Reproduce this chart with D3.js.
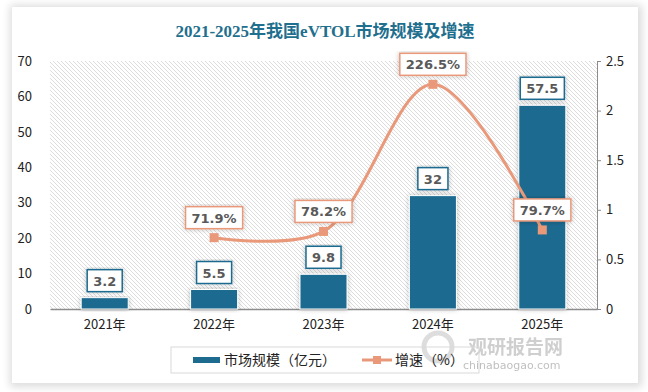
<!DOCTYPE html>
<html>
<head>
<meta charset="utf-8">
<script src="https://cdn.jsdelivr.net/npm/d3@7"></script>
<style>
  body { margin: 0; background: #ffffff; }
  #card { position: absolute; left: 12px; top: 7px; width: 626px; height: 376px;
          background: #fff; box-shadow: 1px 1px 8px 3px rgba(0,0,0,0.14); }
  svg { position: absolute; left: 0; top: 0; }
</style>
</head>
<body>
<div id="card"></div>
<script>
var anios    = ["2021年", "2022年", "2023年", "2024年", "2025年"];
var mercado  = [3.2, 5.5, 9.8, 32, 57.5];          // 市场规模（亿元）
var crecim   = [null, 0.719, 0.782, 2.265, 0.797]; // 增速
var crecimTxt = ["", "71.9%", "78.2%", "226.5%", "79.7%"];
var ticksIzq = [0, 10, 20, 30, 40, 50, 60, 70];
var ticksDer = [0, 0.5, 1, 1.5, 2, 2.5];

var svgW = 648;
var svgH = 392;
var azul = "#1d6b8f";
var naranja = "#e9997a";
var gris = "#595959";
var fuente = "'Noto Sans CJK SC', 'DejaVu Sans', sans-serif";

var x0 = 50, x1 = 597, yBase = 309, yTop = 61;

var svg = d3.select("body")
            .append("svg")
            .attr("width", svgW)
            .attr("height", svgH);

var defs = svg.append("defs");

// rayado del fondo
var pat = defs.append("pattern")
              .attr("id", "rayas")
              .attr("patternUnits", "userSpaceOnUse")
              .attr("width", 4)
              .attr("height", 4);
pat.append("path")
   .attr("d", "M-1,-1 L5,5 M-1,3 L1,5 M3,-1 L5,1")
   .attr("stroke", "#d4d4d4")
   .attr("stroke-width", 0.8);

var sombra = defs.append("filter")
                 .attr("id", "sombra")
                 .attr("x", "-30%").attr("y", "-10%")
                 .attr("width", "160%").attr("height", "130%");
sombra.append("feDropShadow")
      .attr("dx", 0).attr("dy", 0)
      .attr("stdDeviation", 2.5)
      .attr("flood-color", "#000")
      .attr("flood-opacity", 0.25);

/* titulo */
svg.append("text")
   .attr("x", 325)
   .attr("y", 37)
   .attr("text-anchor", "middle")
   .attr("font-family", "'Liberation Serif', 'DejaVu Serif', 'Noto Sans CJK SC', serif")
   .attr("font-weight", "bold")
   .attr("font-size", "17px")
   .attr("fill", "#1f6f8e")
   .text("2021-2025年我国eVTOL市场规模及增速");

/* escalas */
var xScale = d3.scaleBand()
               .domain(anios)
               .range([x0, x1])
               .padding(0);

var yIzq = d3.scaleLinear()
             .domain([0, 70])
             .range([yBase, yTop]);

var yDer = d3.scaleLinear()
             .domain([0, 2.5])
             .range([yBase, yTop]);

svg.append("rect")
   .attr("x", x0)
   .attr("y", yTop)
   .attr("width", x1 - x0)
   .attr("height", yBase - yTop)
   .attr("fill", "url(#rayas)");

/* marca de agua (debajo de los textos del eje) */
svg.append("circle")
   .attr("cx", 438).attr("cy", 347).attr("r", 14)
   .attr("fill", "none").attr("stroke", "#cfcfcf").attr("stroke-width", 5)
   .attr("opacity", 0.7);
svg.append("text")
   .attr("x", 468).attr("y", 354)
   .attr("font-family", fuente).attr("font-weight", "bold")
   .attr("font-size", "19px").attr("fill", "#c4c4c4").attr("opacity", 0.8)
   .text("观研报告网");
svg.append("text")
   .attr("x", 463).attr("y", 369)
   .attr("font-family", "'DejaVu Sans', sans-serif")
   .attr("font-size", "11px").attr("fill", "#b0b0b0").attr("opacity", 0.8)
   .text("chinabaogao.com");

/* ejes */
var ejeIzq = svg.append("g")
                .attr("transform", "translate(" + (x0 - 18) + ",0)")
                .call(d3.axisLeft(yIzq).tickValues(ticksIzq).tickSize(0).tickPadding(0));
ejeIzq.select(".domain").remove();

var ejeDer = svg.append("g")
                .attr("transform", "translate(" + x1 + ",0)")
                .call(d3.axisRight(yDer).tickValues(ticksDer).tickSize(4).tickPadding(5)
                        .tickFormat(function (d) { return d; }));
ejeDer.select(".domain").attr("stroke", "#8c8c8c");
ejeDer.selectAll("line").attr("stroke", "#8c8c8c");

var ejeX = svg.append("g")
              .attr("transform", "translate(0," + yBase + ")")
              .call(d3.axisBottom(xScale).tickSize(0).tickPadding(11));
ejeX.select(".domain").attr("stroke", "#8c8c8c").attr("stroke-width", 1.5);

svg.selectAll(".tick text")
   .attr("font-family", fuente)
   .attr("font-size", "13px")
   .attr("fill", "#222");

/* barras */
var anchoBarra = xScale.bandwidth() * 0.43;

svg.selectAll(".barra")
   .data(mercado)
   .enter()
   .append("rect")
   .attr("class", "barra")
   .attr("x", function (d, i) { return xScale(anios[i]) + (xScale.bandwidth() - anchoBarra) / 2; })
   .attr("y", function (d) { return yIzq(d); })
   .attr("width", anchoBarra)
   .attr("height", function (d) { return yBase - yIzq(d); })
   .attr("fill", azul)
   .attr("stroke", "#fff")
   .attr("stroke-width", 1)
   .attr("filter", "url(#sombra)");

/* linea */
var puntos = crecim.map(function (d, i) { return { v: d, i: i }; })
                   .filter(function (d) { return d.v !== null; });

var linea = d3.line()
              .x(function (d) { return xScale(anios[d.i]) + xScale.bandwidth() / 2; })
              .y(function (d) { return yDer(d.v); })
              .curve(d3.curveCatmullRom.alpha(0.5));

svg.append("path")
   .datum(puntos)
   .attr("d", linea)
   .attr("fill", "none")
   .attr("stroke", naranja)
   .attr("stroke-width", 3);

svg.selectAll(".marca")
   .data(puntos)
   .enter()
   .append("rect")
   .attr("class", "marca")
   .attr("x", function (d) { return xScale(anios[d.i]) + xScale.bandwidth() / 2 - 4.5; })
   .attr("y", function (d) { return yDer(d.v) - 4.5; })
   .attr("width", 9)
   .attr("height", 9)
   .attr("fill", naranja);

/* etiquetas con caja */
function etiqueta(cx, yAbajo, txt, color) {
	var g = svg.append("g");
	var caja = g.append("rect");
	var t = g.append("text")
	         .attr("x", cx)
	         .attr("y", yAbajo - 6)
	         .attr("text-anchor", "middle")
	         .attr("font-family", "'DejaVu Sans', sans-serif")
	         .attr("font-weight", "bold")
	         .attr("font-size", "13px")
	         .attr("fill", gris)
	         .text(txt);
	var w = t.node().getComputedTextLength() + 12;
	caja.attr("x", cx - w / 2)
	    .attr("y", yAbajo - 22)
	    .attr("width", w)
	    .attr("height", 22)
	    .attr("fill", "#fff")
	    .attr("stroke", color)
	    .attr("stroke-width", 1.5)
	    .attr("filter", "url(#sombra)");
}

mercado.forEach(function (d, i) {
	etiqueta(xScale(anios[i]) + xScale.bandwidth() / 2, yIzq(d) - 6, String(d), azul);
});

puntos.forEach(function (d) {
	etiqueta(xScale(anios[d.i]) + xScale.bandwidth() / 2, yDer(d.v) - 9, crecimTxt[d.i], naranja);
});

/* leyenda */
var ley = svg.append("g");
ley.append("rect")
   .attr("x", 171).attr("y", 347).attr("width", 308).attr("height", 26)
   .attr("fill", "none").attr("stroke", "#d9d9d9");
ley.append("rect")
   .attr("x", 193).attr("y", 357).attr("width", 27).attr("height", 6)
   .attr("fill", azul);
ley.append("text")
   .attr("x", 224).attr("y", 365)
   .attr("font-family", fuente).attr("font-size", "14px").attr("fill", "#222")
   .text("市场规模（亿元）");
ley.append("line")
   .attr("x1", 362).attr("x2", 392).attr("y1", 360).attr("y2", 360)
   .attr("stroke", naranja).attr("stroke-width", 3);
ley.append("rect")
   .attr("x", 373).attr("y", 356).attr("width", 8).attr("height", 8)
   .attr("fill", naranja);
ley.append("text")
   .attr("x", 395).attr("y", 365)
   .attr("font-family", fuente).attr("font-size", "14px").attr("fill", "#222")
   .text("增速（%）");
</script>
</body>
</html>
